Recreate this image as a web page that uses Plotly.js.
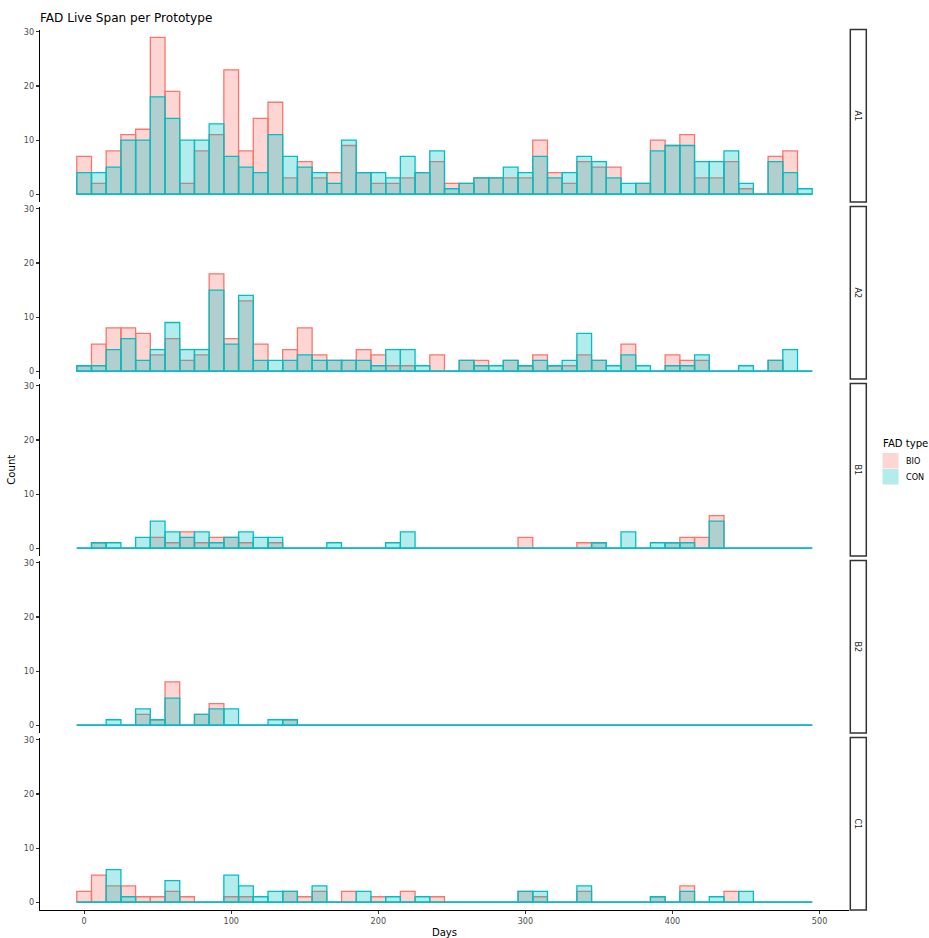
<!DOCTYPE html>
<html>
<head>
<meta charset="utf-8">
<script src="https://cdn.plot.ly/plotly-3.0.1.min.js"></script>
<style>html,body{margin:0;padding:0;background:#fff;}#chart{width:929px;height:938px;}</style>
</head>
<body>
<div id="chart"></div>
<script>
// ---- data (bin centres in days; counts per 10-day bin) ----
const bins = [0,10,20,30,40,50,60,70,80,90, 100,110,120,130,140,150,160,170,180,190,
              200,210,220,230,240,250,260,270,280,290, 300,310,320,330,340,350,360,370,380,390,
              400,410,420,430,440,450,460,470,480,490];
const facets = ["A1","A2","B1","B2","C1"];
const types = ["BIO","CON"];

const A1_BIO = [7,2,8,11,12,29,19,2,8,11, 23,8,14,17,3,6,3,4,9,4, 2,2,3,4,6,2,2,3,3,3, 3,10,4,2,6,5,5,0,2,10, 9,11,3,3,6,1,0,7,8,0];
const A1_CON = [4,4,5,10,10,18,14,10,10,13, 7,5,4,11,7,5,4,2,10,4, 4,3,7,4,8,1,2,3,3,5, 4,7,3,4,7,6,3,2,2,8, 9,9,6,6,8,2,0,6,4,1];
const A2_BIO = [1,5,8,8,7,3,6,2,3,18, 6,13,5,0,4,8,3,2,2,4, 3,1,1,0,3,0,2,2,0,2, 1,3,1,1,3,2,0,5,0,0, 3,2,2,0,0,0,0,2,0,0];
const A2_CON = [1,1,4,6,2,4,9,4,4,15, 5,14,2,2,2,3,2,2,2,2, 1,4,4,1,0,0,2,1,1,2, 1,2,1,2,7,2,1,3,1,0, 1,1,3,0,0,1,0,2,4,0];
const B1_BIO = [0,1,0,0,0,2,1,3,1,2, 2,1,0,1,0,0,0,0,0,0, 0,0,0,0,0,0,0,0,0,0, 2,0,0,0,1,1,0,0,0,0, 1,2,2,6,0,0,0,0,0,0];
const B1_CON = [0,1,1,0,2,5,3,2,3,1, 2,3,2,2,0,0,0,1,0,0, 0,1,3,0,0,0,0,0,0,0, 0,0,0,0,0,1,0,3,0,1, 1,1,0,5,0,0,0,0,0,0];
const B2_BIO = [0,0,0,0,2,1,8,0,2,4, 0,0,0,0,1,0,0,0,0,0, 0,0,0,0,0,0,0,0,0,0, 0,0,0,0,0,0,0,0,0,0, 0,0,0,0,0,0,0,0,0,0];
const B2_CON = [0,0,1,0,3,1,5,0,2,3, 3,0,0,1,1,0,0,0,0,0, 0,0,0,0,0,0,0,0,0,0, 0,0,0,0,0,0,0,0,0,0, 0,0,0,0,0,0,0,0,0,0];
const C1_BIO = [2,5,3,3,1,1,2,1,0,0, 1,1,0,0,2,1,2,0,2,0, 1,0,2,0,1,0,0,0,0,0, 2,1,0,0,2,0,0,0,0,1, 0,3,0,0,2,0,0,0,0,0];
const C1_CON = [0,0,6,1,0,0,4,0,0,0, 5,3,1,2,2,0,3,0,0,2, 0,1,0,1,0,0,0,0,0,0, 2,2,0,0,3,0,0,0,0,1, 0,2,0,1,0,2,0,0,0,0];

const xTicks = [0,100,200,300,400,500];
const yTicks = [0,10,20,30];

// ---- styling ----
const fillCol = {BIO:"rgba(248,118,109,0.3)", CON:"rgba(0,191,196,0.3)"};
const lineCol = {BIO:"#F8766D", CON:"#00BFC4"};
const FONT = "DejaVu Sans";
const W=929, H=938, ML=40, MR=80, MT=29, MB=28;
const PW = W-ML-MR, PH = H-MT-MB;
const px2x = p => (p-ML)/PW;
const py2y = p => (H-MB-p)/PH;
const panelTop = k => 29.5 + 177*k;
const panelH = 172.5;
const TXT = 8.1, TTL = 10.1;

const series = {
  A1:{BIO:A1_BIO, CON:A1_CON}, A2:{BIO:A2_BIO, CON:A2_CON},
  B1:{BIO:B1_BIO, CON:B1_CON}, B2:{BIO:B2_BIO, CON:B2_CON},
  C1:{BIO:C1_BIO, CON:C1_CON}
};

const traces = [];
const layout = {
  width:W, height:H, margin:{l:ML, r:MR, t:MT, b:MB, pad:0},
  paper_bgcolor:"#fff", plot_bgcolor:"rgba(0,0,0,0)",
  font:{family:FONT, color:"#000"},
  showlegend:false, barmode:"overlay", bargap:0,
  title:{text:"FAD Live Span per Prototype", font:{family:FONT, size:12.1, color:"#000"},
         xref:"paper", x:0, xanchor:"left", yref:"container", y:1-17.5/H, yanchor:"middle"},
  shapes:[], annotations:[]
};

layout.xaxis = {
  range:[-30,520], anchor:"y5", showgrid:false, zeroline:false,
  showline:true, linecolor:"#000", linewidth:1.3,
  ticks:"outside", ticklen:3, tickwidth:1.1, tickcolor:"#333",
  tickvals:xTicks, ticktext:xTicks.map(String),
  tickfont:{family:FONT, size:TXT, color:"#4D4D4D"},
  title:{text:"Days", font:{family:FONT, size:TTL, color:"#000"}, standoff:4},
  automargin:false
};

facets.forEach((f,k)=>{
  const yname = k===0 ? "y" : "y"+(k+1);
  const yaxKey = k===0 ? "yaxis" : "yaxis"+(k+1);
  const top = panelTop(k), bot = top+panelH;
  layout[yaxKey] = {
    domain:[Math.max(0,py2y(bot)), Math.min(1,py2y(top))],
    range:[-1.45,30.45], anchor:"x", showgrid:false, zeroline:false,
    showline:true, linecolor:"#000", linewidth:1.3,
    ticks:"outside", ticklen:3, tickwidth:1.1, tickcolor:"#333",
    tickvals:yTicks, ticktext:yTicks.map(String),
    tickfont:{family:FONT, size:TXT, color:"#4D4D4D"},
    automargin:false
  };
  if(k===2){
    layout[yaxKey].title = {text:"Count", font:{family:FONT, size:TTL, color:"#000"}, standoff:6};
  }
  types.forEach(t=>{
    traces.push({
      type:"bar", x:bins, y:series[f][t], width:10, name:t,
      xaxis:"x", yaxis:yname,
      marker:{color:fillCol[t], line:{color:lineCol[t], width:1.3}},
      hoverinfo:"x+y+name"
    });
  });
  // baseline drawn by zero-count bins
  traces.push({
    type:"scatter", mode:"lines", x:[bins[0]-5, bins[bins.length-1]+5], y:[0,0],
    xaxis:"x", yaxis:yname, line:{color:lineCol.CON, width:1.3}, hoverinfo:"skip"
  });
  // strip
  layout.shapes.push({type:"rect", xref:"paper", yref:"paper",
    x0:px2x(850.3), x1:px2x(866.3), y0:py2y(bot), y1:py2y(top),
    line:{color:"#333", width:1.5}, fillcolor:"#fff"});
  layout.annotations.push({xref:"paper", yref:"paper", x:px2x(858.3), y:py2y((top+bot)/2),
    text:f, textangle:90, showarrow:false, xanchor:"center", yanchor:"middle",
    font:{family:FONT, size:TXT, color:"#1A1A1A"}});
});

// legend (manual, ggplot style)
layout.annotations.push({xref:"paper", yref:"paper", x:px2x(881.5), y:py2y(443),
  text:"FAD type", showarrow:false, xanchor:"left", yanchor:"middle",
  font:{family:FONT, size:TTL, color:"#000"}});
const keyTops = {BIO:453, CON:469};
types.forEach(t=>{
  const kt = keyTops[t];
  layout.shapes.push({type:"rect", xref:"paper", yref:"paper",
    x0:px2x(882.5), x1:px2x(898.5), y0:py2y(kt+15.5), y1:py2y(kt),
    line:{width:0}, fillcolor:fillCol[t]});
  layout.annotations.push({xref:"paper", yref:"paper", x:px2x(903.5), y:py2y(kt+7.8),
    text:t, showarrow:false, xanchor:"left", yanchor:"middle",
    font:{family:FONT, size:TXT, color:"#000"}});
});

Plotly.newPlot("chart", traces, layout, {displayModeBar:false, staticPlot:true});
</script>
</body>
</html>
